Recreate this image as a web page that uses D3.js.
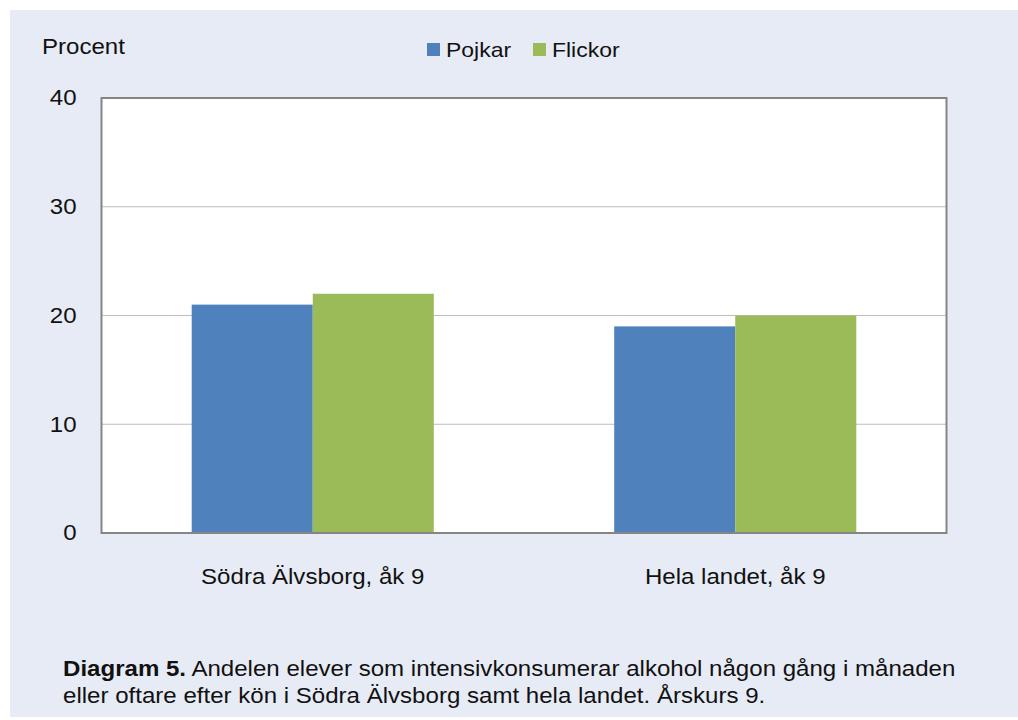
<!DOCTYPE html>
<html>
<head>
<meta charset="utf-8">
<script src="https://cdn.jsdelivr.net/npm/d3@7"></script>
<style>
  body { margin: 0; background: #fff; }
  text { font-family: "Liberation Sans", Arial, sans-serif; fill: #111; }
</style>
</head>
<body>
<script>
var categories = ["Södra Älvsborg, åk 9", "Hela landet, åk 9"];
var series = ["Pojkar", "Flickor"];
var pojkar = [21, 19];
var flickor = [22, 20];
var yTicks = [0, 10, 20, 30, 40];
var colors = ["#4f81bd", "#9bbb59"];

const W = 1018, H = 720;
const pLeft = 101.5, pRight = 946.5, pTop = 98, pBottom = 533;
const fs = 21.5, sx = 1.12; // text in the source is a little wide

const svg = d3.select("body").append("svg")
    .attr("width", W)
    .attr("height", H);

// put a text at x,y stretched sideways
function wideText(g, x, y, size) {
    return g.append("text")
        .attr("transform", "translate(" + x + "," + y + ") scale(" + sx + ",1)")
        .attr("font-size", size || fs);
}

// panel background
svg.append("rect")
    .attr("x", 10).attr("y", 10)
    .attr("width", W - 10).attr("height", 707)
    .attr("fill", "#e7ebf5");

const x0 = d3.scaleBand()
    .domain(categories)
    .range([pLeft, pRight])
    .paddingInner(0.427)
    .paddingOuter(0.2135);

const x1 = d3.scaleBand()
    .domain(series)
    .range([0, x0.bandwidth()]);

const y = d3.scaleLinear()
    .domain([0, 40])
    .range([pBottom, pTop]);

svg.append("rect")
    .attr("x", pLeft).attr("y", pTop)
    .attr("width", pRight - pLeft).attr("height", pBottom - pTop)
    .attr("fill", "#fff");

// gridlines
svg.append("g")
    .selectAll("line")
    .data(yTicks.filter(d => d > 0 && d < 40))
    .enter()
    .append("line")
    .attr("x1", pLeft).attr("x2", pRight)
    .attr("y1", d => y(d)).attr("y2", d => y(d))
    .attr("stroke", "#bdbdbd")
    .attr("stroke-width", 1.2);

var rows = categories.map((c, i) => ({ cat: c, vals: [pojkar[i], flickor[i]] }));

svg.append("g")
    .selectAll("g")
    .data(rows)
    .enter()
    .append("g")
    .attr("transform", d => "translate(" + x0(d.cat) + ",0)")
    .selectAll("rect")
    .data(d => d.vals.map((v, j) => ({ s: series[j], v: v, j: j })))
    .enter()
    .append("rect")
    .attr("x", d => x1(d.s))
    .attr("y", d => y(d.v))
    .attr("width", x1.bandwidth())
    .attr("height", d => pBottom - y(d.v))
    .attr("fill", d => colors[d.j]);

// frame
svg.append("rect")
    .attr("x", pLeft).attr("y", pTop)
    .attr("width", pRight - pLeft).attr("height", pBottom - pTop)
    .attr("fill", "none")
    .attr("stroke", "#858585")
    .attr("stroke-width", 2);

// y axis
const yAxis = d3.axisLeft(y).tickValues(yTicks).tickSize(0).tickPadding(0);
const ya = svg.append("g")
    .attr("transform", "translate(" + pLeft + ",0)")
    .call(yAxis);
ya.select(".domain").remove();
ya.selectAll("text")
    .attr("x", -25 / sx)
    .attr("transform", "scale(" + sx + ",1)")
    .attr("font-size", fs)
    .attr("font-family", "Liberation Sans, Arial, sans-serif")
    .attr("fill", "#111");

// x axis
const xAxis = d3.axisBottom(x0).tickSize(0).tickPadding(0);
const xa = svg.append("g")
    .attr("transform", "translate(0," + pBottom + ")")
    .call(xAxis);
xa.select(".domain").remove();
xa.selectAll("text")
    .attr("y", 51)
    .attr("dy", 0)
    .attr("transform", "scale(" + sx + ",1)")
    .attr("font-size", fs)
    .attr("font-family", "Liberation Sans, Arial, sans-serif")
    .attr("fill", "#111");

wideText(svg, 42, 54).text("Procent");

// legend
const lg = svg.append("g").selectAll("g")
    .data(series)
    .enter()
    .append("g")
    .attr("transform", (d, i) => "translate(" + [427, 533][i] + ",43)");
lg.append("rect")
    .attr("width", 13).attr("height", 13)
    .attr("fill", (d, i) => colors[i]);
lg.each(function(d) {
    wideText(d3.select(this), 19, 13.5, 20.5).text(d);
});

// caption
const cap = wideText(svg, 63, 676);
cap.append("tspan").attr("font-weight", "bold").text("Diagram 5.");
cap.append("tspan").text(" Andelen elever som intensivkonsumerar alkohol någon gång i månaden");
wideText(svg, 63, 703).text("eller oftare efter kön i Södra Älvsborg samt hela landet. Årskurs 9.");
</script>
</body>
</html>
